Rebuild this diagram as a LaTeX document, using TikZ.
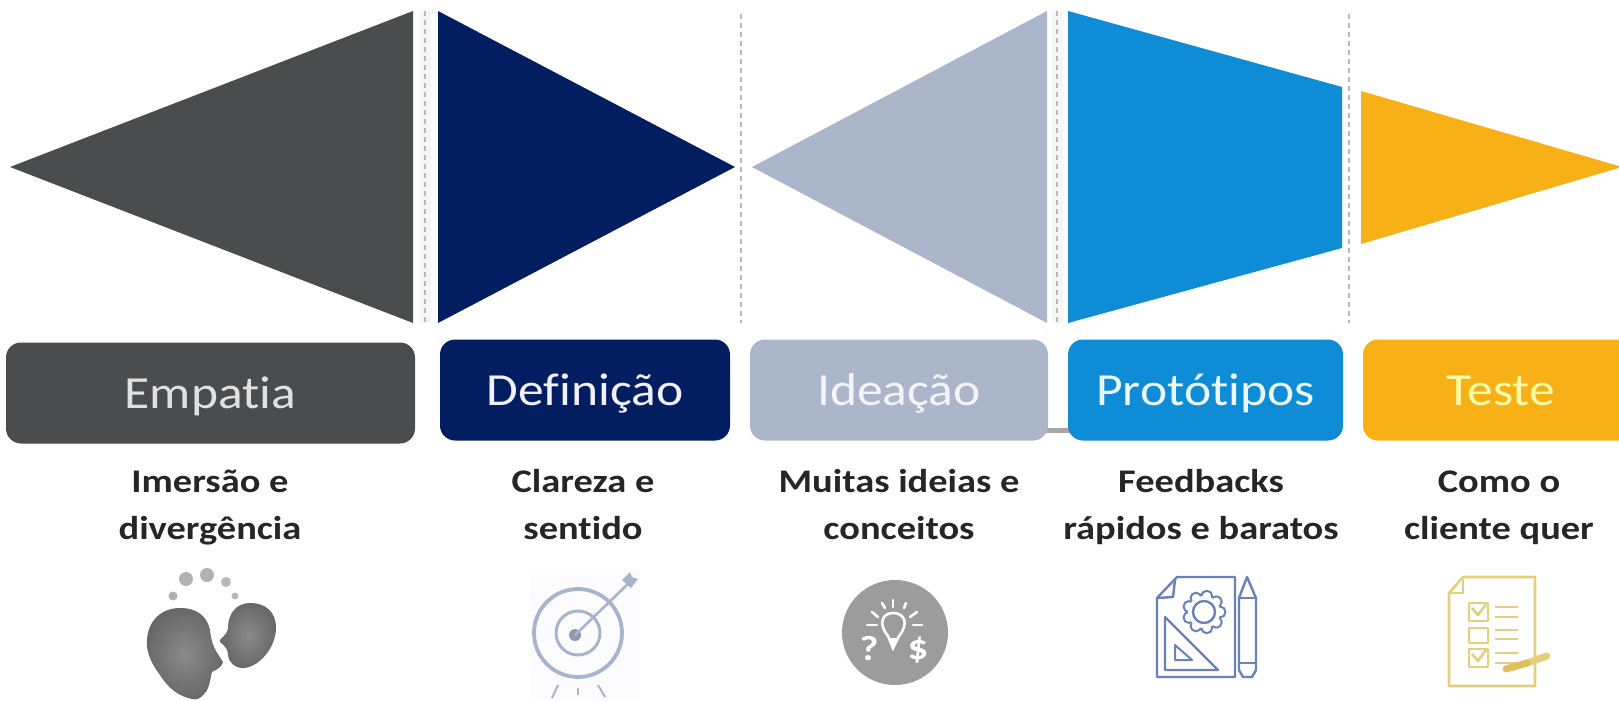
\documentclass[tikz,border=0pt]{standalone}
\usepackage{fontspec}
\setmainfont[Ligatures=CommonOff,FakeStretch=1.12,BoldFeatures={FakeStretch=1.165}]{Carlito}
\definecolor{cEmp}{RGB}{75,76,78}
\definecolor{cDef}{RGB}{2,30,96}
\definecolor{cIde}{RGB}{172,182,203}
\definecolor{cPro}{RGB}{14,140,214}
\definecolor{cTes}{RGB}{247,176,22}
\definecolor{cDash}{RGB}{185,185,185}
\definecolor{cTarget}{RGB}{168,180,204}
\definecolor{cDoc}{RGB}{105,130,185}
\definecolor{cChk}{RGB}{228,207,125}
\definecolor{cPen}{RGB}{224,190,90}
\definecolor{cBand}{RGB}{236,236,236}
\definecolor{cHeadIn}{RGB}{138,138,138}
\definecolor{cHeadOut}{RGB}{104,104,104}
\tikzset{
  phasebox/.style={rounded corners=15pt,minimum height=101pt,inner sep=0pt,text height=31pt,text depth=0pt,font=\fontsize{46}{46}\selectfont},
  caption/.style={font=\bfseries\fontsize{33}{33}\selectfont,text=black!85,inner sep=0pt,anchor=base},
  divider/.style={cDash,line width=1.3pt,dashed,dash pattern=on 5pt off 4pt},
  docline/.style={cDoc,line width=2.4pt,line join=round},
  chkline/.style={cChk,line width=2.6pt,line join=round},
  headshade/.style={inner color=cHeadIn,outer color=cHeadOut},
  glyphmark/.style={white,font=\bfseries\fontsize{35}{35}\selectfont,inner sep=0pt},
}
\begin{document}
\begin{tikzpicture}[x=1pt,y=-1pt]
\useasboundingbox (0,0) rectangle (1619,701);
\begin{scope}
\clip (0,0) rectangle (1619,701);
% funnel shapes
\fill[cEmp] (10,167) -- (413,11) -- (413,323) -- cycle;
\fill[cDef] (438,11) -- (735,167) -- (438,323) -- cycle;
\fill[cIde] (752,167) -- (1047,11) -- (1047,323) -- cycle;
\fill[cPro] (1068,11) -- (1342,87) -- (1342,248) -- (1068,323) -- cycle;
\fill[cTes] (1361,91) -- (1622,167) -- (1361,244) -- cycle;
% dividers
\fill[cBand!50] (420,11) rectangle (431,323);
\fill[cBand!50] (1052,11) rectangle (1063,323);
\draw[divider] (425,11) -- (425,323);
\draw[divider] (741,14) -- (741,323);
\draw[divider] (1057,11) -- (1057,323);
\draw[divider] (1349,14) -- (1349,323);
% stub between boxes
\fill[gray!70] (1040,428) rectangle (1072,433);
% phase boxes
\node[phasebox,fill=cEmp,text=white!88!black,minimum width=409pt] (emp) at (210.5,393) {Empatia};
\node[phasebox,fill=cDef,text=blue!6!white,minimum width=290pt] (def) at (585,390) {Definição};
\node[phasebox,fill=cIde,text=white!85!cIde,minimum width=298pt] (ide) at (899,390) {Ideação};
\node[phasebox,fill=cPro,text=cyan!8!white,minimum width=275pt] (pro) at (1205.5,390) {Protótipos};
\node[phasebox,fill=cTes,text=yellow!35!white,minimum width=276pt] (tes) at (1501,390) {Teste};
% captions
\node[caption] (c1a) at (210,492) {Imersão e};
\node[caption] (c1b) at (210,539) {divergência};
\node[caption] (c2a) at (583,492) {Clareza e};
\node[caption] (c2b) at (583,539) {sentido};
\node[caption] (c3a) at (899,492) {Muitas ideias e};
\node[caption] (c3b) at (899,539) {conceitos};
\node[caption] (c4a) at (1201,492) {Feedbacks};
\node[caption] (c4b) at (1201,539) {rápidos e baratos};
\node[caption] (c5a) at (1499,492) {Como o};
\node[caption] (c5b) at (1499,539) {cliente quer};
% icon: heads
\foreach \px/\py/\pr/\pc in {186/579/7/60,207/575/7/60,226/582/5/55,173/596/4.5/60,235/596/3.5/55}
  \fill[gray!\pc] (\px,\py) circle (\pr);
\shade[headshade] (180,608)
  .. controls (197,608) and (207,616) .. (210,630)
  .. controls (211,640) and (213,645) .. (216,651)
  -- (223,662) .. controls (222,667) and (216,670) .. (212,672)
  .. controls (210,680) and (209,690) .. (204,694)
  .. controls (200,699) and (196,700) .. (192,699)
  .. controls (178,696) and (168,688) .. (160,675)
  .. controls (150,662) and (146,650) .. (147,640)
  .. controls (148,620) and (162,608) .. (180,608) -- cycle;
\shade[headshade] (250,603)
  .. controls (266,603) and (276,612) .. (276,628)
  .. controls (276,648) and (258,668) .. (243,668)
  .. controls (235,668) and (229,663) .. (228,655)
  .. controls (228,650) and (226,647) .. (220,642)
  -- (220,640) .. controls (224,636) and (228,632) .. (228,628)
  .. controls (228,614) and (236,603) .. (250,603) -- cycle;
% icon: target
\fill[blue!1!white] (530,570) rectangle (640,700);
\draw[cTarget,line width=3.8pt] (578,633) circle (44);
\draw[cTarget,line width=3pt] (578,633) circle (22);
\fill[cTarget!85!black] (575,635) circle (6);
\draw[cTarget,line width=2.6pt] (575,635) -- (630,582);
\fill[cTarget] (622,580) -- (630,572) -- (632,577) -- (638,579) -- (631,588) -- cycle;
\draw[cTarget,line width=2pt] (558,685) -- (552,698);
\draw[cTarget,line width=2pt] (578,688) -- (578,695);
\draw[cTarget,line width=2pt] (598,685) -- (605,697);
% icon: idea
\fill[gray!78] (895,632.5) ellipse (53 and 52.5);
\begin{scope}[white,line width=2.6pt,line cap=round]
\draw (888,636) .. controls (878,624) and (882,613) .. (893,613)
  .. controls (905,613) and (909,624) .. (899,636) -- (893,648) -- cycle;
\fill (889,638) -- (898,638) -- (893,649) -- cycle;
\foreach \a/\b/\c/\d in {893/600/893/607,882/603/885/608,906/603/904/608,872/612/878/617,917/612/910/617,867/625/877/625,913/625/922/625}
  \draw (\a,\b) -- (\c,\d);
\end{scope}
\node[glyphmark] (qm) at (869,649) {?};
\node[glyphmark] (dl) at (918,650) {\$};
% icon: prototype sheet
\draw[docline] (1177,577) -- (1235,577) -- (1235,677) -- (1157,677) -- (1157,598) -- cycle;
\draw[docline] (1175,580) -- (1173,597) -- (1157,598);
\foreach \t in {0,40,...,320}
  \draw[docline,line width=2pt] (1204,612) ++(\t:16) circle (5.5);
\fill[white] (1204,612) circle (16);
\draw[docline] (1204,612) circle (11);
\draw[docline] (1165,617) -- (1165,670) -- (1218,670) -- cycle;
\draw[docline,line width=2pt] (1175,645) -- (1175,660) -- (1192,660) -- cycle;
\draw[docline] (1239,598) -- (1239,670) -- (1243,677) -- (1252,677) -- (1256,670) -- (1256,598) -- (1247,577) -- cycle;
\draw[docline] (1239,598) -- (1256,598);
\draw[docline,line width=2pt] (1239,663) -- (1256,663);
% icon: checklist
\draw[chkline] (1463,577) -- (1535,577) -- (1535,686) -- (1449,686) -- (1449,593) -- cycle;
\draw[chkline] (1463,579) -- (1463,593) -- (1449,593);
\draw[chkline] (1469,603) rectangle (1488,621);
\draw[chkline] (1469,628) rectangle (1488,643);
\draw[chkline] (1469,649) rectangle (1488,667);
\draw[chkline] (1472,608) -- (1478,615) -- (1486,604);
\draw[chkline] (1472,654) -- (1478,661) -- (1486,650);
\foreach \y in {607,617,630,639,653,663}
  \draw[chkline,line width=2pt] (1495,\y) -- (1518,\y);
\draw[cChk,line width=7pt,line cap=round] (1527,663) -- (1547,656);
\draw[cPen,line width=7pt,line cap=round] (1506,669) -- (1527,663);
\end{scope}
\end{tikzpicture}
\end{document}
